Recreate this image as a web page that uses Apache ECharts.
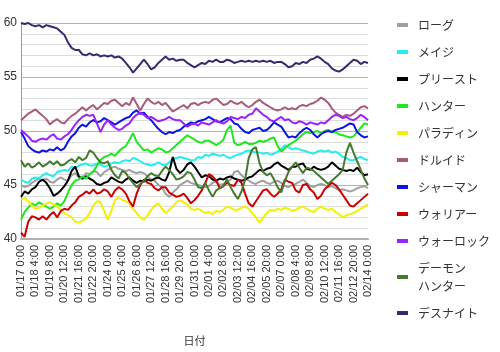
<!DOCTYPE html>
<html>
<head>
<meta charset="utf-8">
<script src="https://cdn.jsdelivr.net/npm/echarts@6/dist/echarts.min.js"></script>
<style>
html, body { margin: 0; padding: 0; background: #fff; }
#myChart { width: 500px; height: 352px; }
</style>
</head>
<body>
<div id="myChart"></div>
<script>
// 職業ごとのデータ（7時間ごと、01/17 0:00 ～ 02/14 0:00）
var classNames = ['ローグ', 'メイジ', 'プリースト', 'ハンター', 'パラディン', 'ドルイド',
  'シャーマン', 'ウォリアー', 'ウォーロック', 'デーモン\nハンター', 'デスナイト'];

var rogue = [45.0, 44.8, 44.9, 45.2, 45.4, 45.6, 45.4, 45.6, 45.3, 45.2, 45.5, 45.7,
  45.5, 45.4, 45.9, 46.1, 45.7, 45.6, 46.1, 46.0, 46.3, 46.2, 45.8, 46.2,
  46.4, 46.6, 46.7, 46.5, 46.4, 46.3, 46.4, 46.2, 46.1, 46.2, 46.1, 45.8,
  45.5, 45.4, 45.0, 44.8, 44.2, 43.9, 44.3, 44.6, 45.0, 45.2, 45.4, 45.2,
  45.1, 45.0, 44.9, 44.8, 44.9, 45.2, 45.3, 45.0, 45.1, 45.3, 45.5, 46.2,
  46.3, 45.9, 45.6, 45.4, 45.2, 45.1, 45.3, 45.4, 45.2, 45.1, 45.3, 45.4,
  45.2, 44.9, 44.8, 45.0, 45.1, 45.3, 45.5, 45.2, 44.9, 44.8, 45.0, 45.1,
  45.0, 44.8, 44.9, 44.7, 44.5, 44.6, 44.5, 44.4, 44.5, 44.7, 44.8, 44.9, 44.7];

var mage = [45.5, 45.3, 45.2, 45.6, 45.7, 45.6, 45.9, 46.1, 45.9, 45.8, 46.2, 46.3,
  46.4, 46.3, 46.7, 46.6, 46.8, 46.9, 47.0, 46.8, 46.8, 47.0, 46.9, 46.7,
  46.8, 47.0, 47.1, 47.0, 47.2, 47.3, 47.2, 47.5, 47.4, 47.2, 47.0, 46.9,
  46.8, 46.9, 47.1, 46.9, 46.8, 47.1, 47.4, 47.5, 47.6, 47.5, 47.4, 47.3,
  47.3, 47.6, 47.5, 47.8, 47.7, 47.9, 47.8, 47.7, 47.8, 47.6, 47.5, 47.7,
  47.8, 47.9, 48.1, 48.2, 48.1, 48.0, 48.0, 47.9, 48.0, 47.8, 47.9, 48.1,
  48.3, 48.7, 48.5, 48.3, 48.4, 48.3, 48.2, 48.1, 48.0, 47.9, 48.1, 48.2,
  48.1, 48.2, 48.0, 48.1, 47.9, 47.6, 47.5, 47.3, 47.3, 47.5, 47.6, 47.4, 47.3];

var priest = [43.9, 44.4, 44.2, 44.6, 44.8, 45.3, 45.5, 45.2, 44.7, 44.0, 44.2, 44.5,
  44.9, 45.4, 46.3, 46.7, 45.8, 45.6, 45.8, 45.6, 45.4, 45.1, 45.0, 45.2,
  45.3, 45.7, 45.5, 45.3, 45.2, 45.5, 45.7, 45.4, 45.2, 45.4, 45.3, 45.5,
  45.4, 45.6, 45.7, 45.5, 45.4, 46.2, 47.6, 46.5, 46.1, 46.4, 46.9, 47.1,
  46.7, 46.2, 45.7, 45.9, 45.8, 45.5, 45.4, 45.6, 45.5, 45.7, 45.8, 45.6,
  45.5, 45.4, 45.5, 45.7, 45.8, 46.1, 46.4, 46.3, 46.5, 46.6, 46.9, 47.1,
  46.8, 46.6, 46.4, 46.7, 46.7, 46.9, 47.0, 46.5, 46.4, 46.7, 46.5, 46.4,
  46.5, 46.7, 47.1, 46.8, 46.5, 46.4, 46.3, 46.4, 46.3, 46.6, 46.2, 45.9, 46.0];

var hunter = [41.8, 42.5, 42.9, 43.3, 43.1, 43.4, 43.2, 43.0, 42.8, 43.0, 43.3, 43.1,
  43.5, 44.3, 45.0, 45.4, 45.5, 45.8, 45.6, 46.0, 46.2, 46.8, 47.3, 47.6,
  47.7, 47.9, 47.7, 48.1, 48.4, 48.6, 49.2, 49.8, 49.0, 48.6, 48.2, 48.3,
  48.0, 48.2, 48.4, 48.3, 48.0, 48.1, 48.4, 48.7, 49.0, 49.3, 49.6, 49.4,
  49.2, 49.0, 48.9, 49.1, 49.1, 48.9, 48.7, 48.9, 49.2, 50.1, 50.5, 48.9,
  48.7, 48.8, 49.0, 48.8, 48.8, 48.9, 49.1, 49.0, 49.1, 49.3, 49.4, 48.6,
  48.1, 48.4, 48.7, 48.9, 49.1, 49.4, 49.7, 49.9, 49.8, 49.9, 50.0, 49.8,
  50.0, 50.1, 49.9, 49.9, 49.7, 49.6, 49.5, 49.4, 49.5, 49.9, 50.3, 50.7, 50.6];

var paladin = [43.6, 43.8, 43.5, 43.1, 42.8, 42.9, 43.1, 43.3, 43.4, 43.2, 43.0, 42.7,
  42.4, 42.2, 42.0, 41.6, 41.5, 41.7, 41.9, 42.4, 43.1, 43.5, 43.4, 42.6,
  41.8, 42.6, 43.6, 43.9, 43.6, 43.5, 43.3, 42.8, 42.4, 42.0, 41.8, 42.2,
  42.7, 43.1, 43.3, 42.8, 42.4, 42.7, 43.0, 43.4, 43.6, 43.4, 43.2, 42.8,
  42.7, 42.8, 42.6, 42.4, 42.5, 42.3, 42.6, 42.5, 42.7, 43.0, 42.9, 42.7,
  42.7, 42.9, 43.0, 42.8, 42.4, 42.0, 41.5, 42.0, 42.4, 42.7, 42.6, 42.8,
  42.7, 42.9, 42.8, 42.6, 42.7, 42.9, 43.0, 42.8, 42.6, 42.5, 42.8, 43.0,
  42.8, 42.7, 42.8, 42.5, 42.3, 42.0, 42.2, 42.3, 42.4, 42.6, 42.8, 43.0, 43.2];

var druid = [51.0, 51.3, 51.6, 51.8, 52.0, 51.7, 51.4, 51.1, 50.6, 50.9, 51.1, 50.8,
  50.7, 51.1, 51.4, 51.6, 51.9, 52.2, 51.9, 52.2, 52.4, 52.0, 52.3, 52.6,
  52.5, 52.8, 52.9, 52.6, 52.3, 52.6, 52.4, 53.1, 52.5, 51.9, 52.5, 53.0,
  52.7, 52.5, 52.7, 52.4, 52.6, 52.2, 51.8, 52.0, 52.2, 52.4, 52.1, 52.5,
  52.6, 52.4, 52.6, 52.7, 52.6, 52.9, 53.0, 52.7, 52.4, 52.5, 52.8, 52.6,
  52.5, 52.7, 52.4, 52.2, 52.4, 52.7, 52.9, 52.6, 52.4, 52.2, 52.0, 51.9,
  52.0, 52.2, 52.0, 52.1, 52.0, 52.3, 52.4, 52.3, 52.5, 52.6, 52.8, 53.1,
  52.9, 52.6, 52.1, 51.7, 51.5, 51.3, 51.5, 51.4, 51.6, 51.9, 52.2, 52.3, 52.1];

var shaman = [49.9, 49.3, 48.6, 48.3, 48.1, 48.0, 48.2, 48.1, 48.3, 48.2, 48.5, 48.2,
  48.4, 49.0, 49.5, 49.8, 50.3, 50.6, 50.4, 50.8, 51.0, 50.8, 50.9, 51.2,
  51.0, 50.8, 50.6, 50.8, 51.0, 51.2, 51.3, 51.7, 51.9, 51.6, 51.7, 51.3,
  51.0, 50.6, 50.2, 49.9, 49.7, 49.9, 49.8, 50.0, 50.1, 50.4, 50.6, 50.8,
  50.7, 50.9, 51.0, 51.1, 51.3, 51.1, 50.9, 50.8, 51.0, 51.2, 51.1, 50.7,
  50.6, 50.2, 49.9, 49.8, 50.1, 50.2, 50.3, 50.0, 50.1, 50.4, 50.8, 50.6,
  50.4, 49.9, 49.4, 49.5, 49.4, 49.8, 50.1, 50.3, 50.1, 49.7, 49.4, 49.7,
  49.9, 50.0, 49.9, 50.1, 50.2, 50.3, 50.5, 50.7, 50.6, 49.9, 49.6, 49.4, 49.5];

var warrior = [40.6, 40.2, 41.6, 42.1, 42.0, 41.8, 42.1, 41.8, 42.2, 42.5, 42.0, 42.6,
  42.8, 42.7, 43.1, 43.4, 43.9, 44.1, 44.4, 44.2, 44.6, 44.2, 44.3, 44.6,
  44.4, 43.9, 44.5, 44.8, 44.6, 44.2, 43.5, 43.0, 44.2, 45.0, 45.5, 45.2,
  45.1, 44.7, 44.5, 44.8, 44.8, 44.3, 44.1, 43.9, 44.0, 44.2, 43.8, 43.3,
  43.6, 44.0, 44.5, 45.2, 46.0, 45.8, 45.4, 44.7, 44.9, 45.2, 45.0, 44.9,
  45.5, 45.2, 44.2, 43.3, 43.0, 43.5, 44.0, 44.5, 44.6, 44.2, 43.9, 44.2,
  44.6, 45.5, 45.3, 45.2, 44.5, 44.3, 45.0, 45.1, 44.6, 44.3, 43.7, 44.0,
  44.6, 44.9, 45.2, 45.0, 44.6, 44.1, 43.6, 43.1, 43.0, 43.3, 43.6, 43.9, 44.2];

var warlock = [50.1, 49.8, 49.5, 49.1, 49.0, 49.2, 49.3, 49.2, 49.5, 49.7, 49.3, 49.2,
  49.5, 49.7, 50.1, 50.6, 51.0, 51.3, 51.5, 51.4, 51.5, 50.7, 49.9, 50.6,
  51.0, 50.6, 50.3, 50.1, 50.2, 50.5, 50.7, 51.2, 51.5, 51.7, 51.5, 51.2,
  51.3, 51.1, 50.9, 51.0, 51.1, 51.3, 51.1, 51.0, 51.0, 50.7, 50.4, 50.6,
  50.7, 50.5, 50.8, 50.7, 50.6, 50.8, 51.0, 50.8, 50.7, 50.9, 51.3, 51.2,
  51.1, 51.3, 51.2, 51.5, 51.6, 52.1, 51.8, 51.5, 51.3, 51.0, 50.9, 51.1,
  51.3, 51.0, 51.1, 50.8, 50.7, 50.9, 50.8, 50.6, 50.8, 50.7, 50.6, 50.8,
  50.7, 51.0, 51.3, 51.5, 51.4, 51.2, 51.3, 51.1, 51.0, 51.2, 51.5, 51.3, 51.0];

var demonHunter = [47.3, 46.7, 47.0, 46.6, 46.8, 47.1, 46.7, 46.9, 47.2, 46.9, 47.2, 46.8,
  46.9, 47.2, 47.4, 47.1, 47.6, 47.3, 47.5, 48.2, 48.0, 47.5, 47.1, 47.0,
  47.2, 46.4, 45.9, 45.6, 46.3, 46.1, 45.6, 45.2, 44.8, 45.1, 45.4, 45.8,
  46.1, 45.9, 45.8, 46.3, 46.7, 46.4, 46.0, 45.5, 45.6, 45.8, 46.2, 46.1,
  45.5, 44.8, 44.7, 45.2, 44.5, 43.9, 44.5, 44.7, 44.9, 45.5, 44.8, 44.2,
  43.7, 44.4, 45.5, 47.5, 48.3, 48.5, 47.0, 46.2, 45.9, 46.1, 45.5, 44.8,
  44.3, 45.4, 46.2, 46.7, 47.1, 46.6, 46.1, 46.6, 46.5, 46.3, 46.0, 45.7,
  45.4, 45.1, 45.4, 45.7, 46.0, 46.4, 48.0, 48.9, 48.0, 47.2, 46.4, 45.6, 45.0];

var deathKnight = [60.0, 59.9, 60.0, 59.8, 59.7, 59.8, 59.6, 59.8, 59.7, 59.6, 59.5, 59.2,
  58.9, 58.2, 57.7, 57.5, 57.5, 57.1, 57.0, 57.2, 57.0, 57.1, 56.9, 57.0,
  56.9, 57.0, 56.8, 56.9, 56.7, 56.3, 55.9, 55.4, 55.8, 56.2, 56.6, 56.2,
  55.7, 55.9, 56.3, 56.6, 56.9, 56.6, 56.7, 56.5, 56.6, 56.6, 56.3, 56.1,
  55.9, 56.1, 56.3, 56.2, 56.5, 56.4, 56.6, 56.4, 56.4, 56.6, 56.5, 56.3,
  56.4, 56.5, 56.4, 56.5, 56.4, 56.5, 56.4, 56.5, 56.4, 56.5, 56.3, 56.4,
  56.4, 56.2, 55.9, 56.0, 56.3, 56.2, 56.4, 56.3, 56.6, 56.7, 56.9, 56.7,
  56.4, 56.2, 55.8, 55.6, 55.5, 55.7, 56.0, 56.3, 56.6, 56.5, 56.2, 56.4, 56.3];

var classData = [rogue, mage, priest, hunter, paladin, druid, shaman, warrior,
  warlock, demonHunter, deathKnight];
var classColors = ['#a0a0a0', '#22eef0', '#000000', '#1ee81e', '#f2f200', '#a85a7c',
  '#0a14e6', '#cc0000', '#9922ff', '#437a2d', '#352a70'];

// 日付ラベル（7時間刻み）
var dates = [];
for (var i = 0; i < rogue.length; i++) {
  var h = i * 7;
  var d = 17 + Math.floor(h / 24);
  var m = '01';
  if (d > 31) {
    d = d - 31;
    m = '02';
  }
  dates.push(m + '/' + (d < 10 ? '0' + d : d) + ' ' + (h % 24) + ':00');
}

var series = [];
for (var k = 0; k < classNames.length; k++) {
  series.push({
    name: classNames[k],
    type: 'line',
    data: classData[k],
    symbol: 'none',
    lineStyle: { width: 2, color: classColors[k] },
    itemStyle: { color: classColors[k] }
  });
}

var myChart = echarts.init(document.getElementById('myChart'));
var option = {
  animation: false,
  textStyle: { fontFamily: 'Liberation Sans, "Noto Sans CJK JP", sans-serif' },
  legend: {
    orient: 'vertical',
    left: 392,
    top: 11,
    itemWidth: 11,
    itemHeight: 4,
    itemGap: 9,
    icon: 'rect',
    textStyle: {
      fontSize: 12,
      color: '#333',
      lineHeight: 18,
      padding: [0, 0, 0, 5],
      fontFamily: '"Noto Sans CJK JP", sans-serif'
    },
    data: classNames
  },
  grid: {
    left: 21,
    right: 132,
    top: 23,
    bottom: 113
  },
  xAxis: {
    type: 'category',
    data: dates,
    boundaryGap: false,
    name: '日付',
    nameLocation: 'middle',
    nameGap: 96,
    nameTextStyle: { fontSize: 11, color: '#333', fontFamily: '"Noto Sans CJK JP", sans-serif' },
    axisLine: { lineStyle: { color: '#b0b0b0', width: 2 } },
    axisTick: { show: false },
    axisLabel: {
      interval: 3,
      rotate: 90,
      fontSize: 11,
      color: '#333',
      margin: 6
    },
    splitLine: { show: false }
  },
  yAxis: {
    type: 'value',
    min: 40,
    max: 60,
    interval: 5,
    axisLine: { show: true, lineStyle: { color: '#999' } },
    axisTick: { show: false },
    axisLabel: { fontSize: 12, color: '#333', margin: 4 },
    splitLine: { lineStyle: { color: '#b4b4b4' } },
    minorTick: { show: false, splitNumber: 5 },
    minorSplitLine: { show: true, lineStyle: { color: '#dcdcdc' } }
  },
  series: series
};
myChart.setOption(option);
</script>
</body>
</html>
